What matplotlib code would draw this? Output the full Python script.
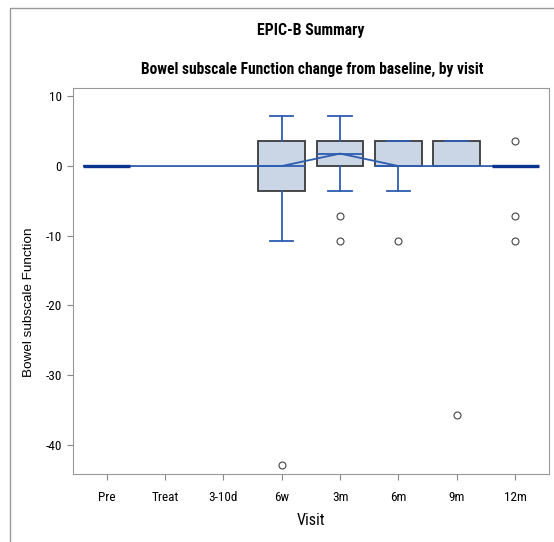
import numpy as np
import matplotlib
matplotlib.use('Agg')
import matplotlib.pyplot as plt
from matplotlib.lines import Line2D

plt.rcParams['font.family'] = ['Roboto Condensed', 'DejaVu Sans']
plt.rcParams['axes.unicode_minus'] = False

# data
visits = ['Pre', 'Treat', '3-10d', '6w', '3m', '6m', '9m', '12m']
q1 = [0, None, None, -3.57, 0, 0, 0, 0]
med = [0, None, None, 0, 1.79, 0, 0, 0]
q3 = [0, None, None, 3.57, 3.57, 3.57, 3.57, 0]
whislo = [0, None, None, -10.71, -3.57, -3.57, 0, 0]
whishi = [0, None, None, 7.14, 7.14, 3.57, 3.57, 0]
means = [0, None, None, 0, 1.79, 0, 0, 0]
fliers = [[], [], [], [-42.86], [-7.14, -10.71], [-10.71], [-35.71], [3.57, -7.14, -10.71]]

blue = '#2E5DB0'
navy = '#0B3490'

fig = plt.figure(figsize=(5.54, 5.42), dpi=100)
ax = fig.add_axes([0.131, 0.1255, 0.86, 0.7121])

stats, pos = [], []
for i in range(len(visits)):
    if q1[i] is None:
        continue
    stats.append(dict(q1=q1[i], med=med[i], q3=q3[i], whislo=whislo[i], whishi=whishi[i],
                      mean=means[i], fliers=np.array(fliers[i])))
    pos.append(i)

bp = ax.bxp(stats, positions=pos, widths=0.8, patch_artist=True, showmeans=False,
            boxprops=dict(facecolor='#CAD5E5', edgecolor='#3A3A3A', linewidth=1.3),
            whiskerprops=dict(color=blue, linewidth=1.3),
            capprops=dict(color=blue, linewidth=1.3),
            capwidths=0.4,
            medianprops=dict(color=blue, linewidth=1.3),
            flierprops=dict(marker='o', markersize=5, markerfacecolor='none',
                            markeredgecolor='#444444', markeredgewidth=0.8))
for k, i in enumerate(pos):
    if q1[i] == q3[i]:
        bp['medians'][k].set_color(navy)
        bp['medians'][k].set_linewidth(2.4)
        bp['medians'][k].set_zorder(4)

# line through the means
ax.plot(pos, [means[i] for i in pos], color=blue, linewidth=1.3, zorder=3)

ax.set_xlim(-0.584, 7.58)
ax.set_ylim(-44.2, 11.2)
ax.set_yticks([10, 0, -10, -20, -30, -40])
ax.set_xticks(range(len(visits)))
ax.set_xticklabels(visits)
ax.tick_params(colors='#888888', labelcolor='black', labelsize=9.5, length=4)
ax.tick_params(axis='x', pad=8)
for s in ax.spines.values():
    s.set_color('#999999')
ax.set_xlabel('Visit', fontsize=11.5, labelpad=7)
ax.set_ylabel('Bowel subscale Function', fontsize=9.7,
              family=['Liberation Sans', 'DejaVu Sans'])
ax.yaxis.set_label_coords(-0.078, 0.446)

fig.text(311 / 554, 1 - 30 / 542, 'EPIC-B Summary', ha='center', va='center',
         fontsize=11.3, fontweight='bold')
fig.text(312 / 554, 1 - 69 / 542, 'Bowel subscale Function change from baseline, by visit',
         ha='center', va='center', fontsize=11.2, fontweight='bold')

# outer frame (left and top edges)
fig.add_artist(Line2D([10 / 554, 10 / 554, 1], [0, 1 - 8 / 542, 1 - 8 / 542],
                      transform=fig.transFigure, color='#999999', linewidth=1))

fig.savefig('out.png', dpi=100)
